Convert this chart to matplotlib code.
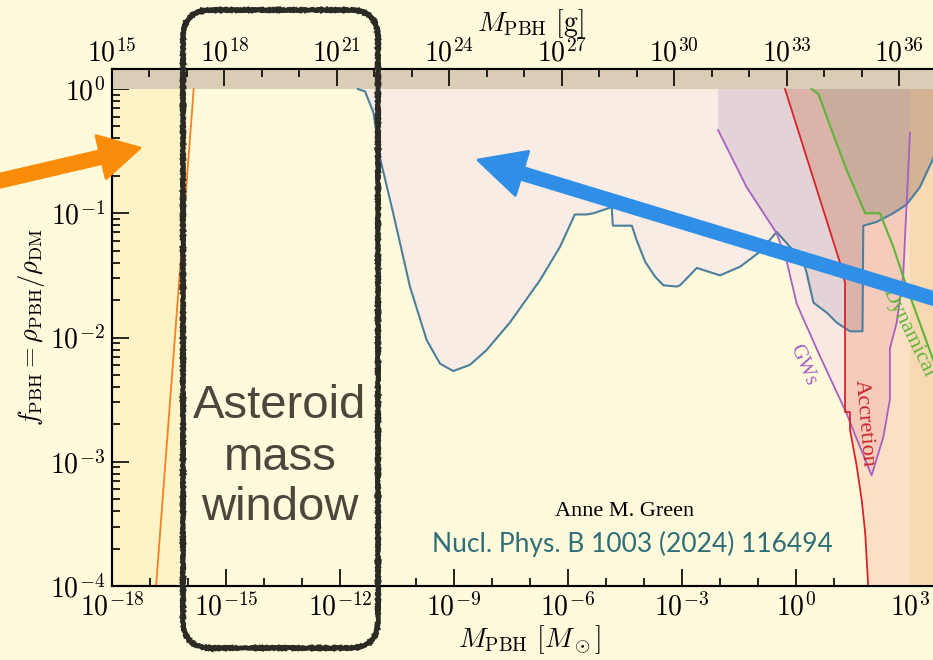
import numpy as np
import matplotlib.pyplot as plt
from matplotlib.patches import Polygon, FancyBboxPatch, FancyArrow
from matplotlib.ticker import FixedLocator, NullFormatter, LogLocator
from matplotlib.transforms import IdentityTransform

plt.rcParams['mathtext.fontset'] = 'cm'
plt.rcParams['font.family'] = ['Liberation Serif', 'DejaVu Serif']

# all curves as log10(M / M_sun), log10(f_PBH)
evap_line_logm = [-16.84, -15.85]
evap_line_logf = [-4.0, 0.0]
evap_fill_logm = [-18.5, -16.12, -16.02, -18.5]
evap_fill_logf = [-4.0, -4.0, 0.0, 0.0]

ml_logm = [-11.53, -11.34, -11.12, -10.95, -10.60, -10.16, -9.72, -9.37, -9.02,
           -8.58, -8.14, -7.53, -6.74, -6.21, -5.82, -5.51, -5.33, -4.85, -4.82,
           -4.32, -4.19, -3.97, -3.71, -3.49, -3.14, -3.05, -2.61, -2.00, -1.47,
           -0.95, -0.51, -0.16, 0.19, 0.28, 0.46, 0.81, 1.07, 1.42, 1.75, 1.77,
           2.12, 2.56, 2.91, 3.26, 3.61, 3.92, 4.10]
ml_logf = [0.0, -0.02, -0.19, -0.55, -1.00, -1.59, -2.02, -2.21, -2.27,
           -2.22, -2.10, -1.88, -1.54, -1.27, -1.01, -1.01, -1.00, -0.95, -1.10,
           -1.10, -1.22, -1.39, -1.51, -1.58, -1.59, -1.58, -1.44, -1.50, -1.43,
           -1.31, -1.15, -1.27, -1.38, -1.48, -1.72, -1.80, -1.88, -1.95, -1.95, -1.10,
           -1.07, -1.00, -0.93, -0.79, -0.56, -0.15, 0.0]

gw_logm = [-2.05, -2.05, -1.30, -0.51, -0.25, 0.02, 0.63, 1.33, 1.47, 1.99,
           2.30, 2.47, 2.47, 2.65, 2.82, 3.00, 3.00]
gw_logf = [0.0, -0.33, -0.79, -1.16, -1.38, -1.73, -2.15, -2.61, -2.72, -3.11,
           -2.80, -2.50, -2.09, -1.88, -1.51, -0.35, 0.0]

acc_logm = [-0.29, 1.16, 1.29, 1.29, 1.42, 1.42, 1.60, 1.73, 1.82, 1.90]
acc_logf = [0.0, -1.40, -1.56, -2.60, -2.60, -2.74, -3.04, -3.31, -3.57, -4.0]

dyn_logm = [0.41, 0.59, 0.90, 1.33, 1.82, 2.21, 2.56, 2.91, 3.61, 4.05, 4.50]
dyn_logf = [0.0, -0.04, -0.30, -0.65, -1.00, -1.00, -1.27, -1.59, -2.18, -2.54, -2.90]

right_logm = 3.0

x_major_exps = [-18, -15, -12, -9, -6, -3, 0, 3]
x_top_exps = [15, 18, 21, 24, 27, 30, 33, 36]
y_major_exps = [0, -1, -2, -3, -4]

window_words = ['Asteroid', 'mass', 'window']

bg = '#fffadc'


def pts(logm, logf):
    return np.column_stack([10 ** np.array(logm), 10 ** np.array(logf)])


fig = plt.figure(figsize=(9.33, 6.6), dpi=100, facecolor=bg)
ax = fig.add_axes([112 / 933, 74 / 660, 836 / 933, 517 / 660])
ax.set_facecolor(bg)
ax.set_xscale('log')
ax.set_yscale('log')
ax.set_xlim(1e-18, 1e4)
ax.set_ylim(1e-4, 10 ** (20 / 124.25))

# regions
ax.add_patch(Polygon(pts(evap_fill_logm, evap_fill_logf), closed=True,
                     fc='#fdf3c6', ec='none', zorder=1))

ml_poly = Polygon(pts(ml_logm, ml_logf), closed=True, fc='#f9ece4', ec='none', zorder=1)
ax.add_patch(ml_poly)

gw_poly = Polygon(pts(gw_logm, gw_logf), closed=True, fc='#fbe8e2', ec='none', zorder=2)
ax.add_patch(gw_poly)
gw_in_ml = Polygon(pts(gw_logm, gw_logf), closed=True, fc='#e3d3d6', ec='none', zorder=2.1)
ax.add_patch(gw_in_ml)
gw_in_ml.set_clip_path(ml_poly)

acc_pts = pts(acc_logm + [4.6, 4.6], acc_logf + [-4.5, 0.0])
ax.add_patch(Polygon(acc_pts, closed=True, fc='#fbe0c6', ec='none', zorder=3))
acc_in_gw = Polygon(acc_pts, closed=True, fc='#f5cbbb', ec='none', zorder=3.1)
ax.add_patch(acc_in_gw)
acc_in_gw.set_clip_path(gw_poly)
acc_in_ml = Polygon(acc_pts, closed=True, fc='#dbb3a8', ec='none', zorder=3.2)
ax.add_patch(acc_in_ml)
acc_in_ml.set_clip_path(ml_poly)

dyn_pts = pts(dyn_logm + [4.6], dyn_logf + [0.0])
dyn_in_ml = Polygon(dyn_pts, closed=True, fc='#c9ad9c', ec='none', zorder=4)
ax.add_patch(dyn_in_ml)
dyn_in_ml.set_clip_path(ml_poly)

ax.axvspan(10 ** right_logm, 10 ** 4.6, color='#f0c680', alpha=0.28, lw=0, zorder=4.5)

ax.axhspan(1, 10, color='#d9cdb6', lw=0, zorder=5)

# boundary lines
ax.plot(10 ** np.array(evap_line_logm), 10 ** np.array(evap_line_logf), color='#f4821e', lw=1.3, zorder=6)
ax.plot(10 ** np.array(ml_logm), 10 ** np.array(ml_logf), color='#4b7f9c', lw=1.5, zorder=6)
ax.plot(10 ** np.array(gw_logm[1:-1]), 10 ** np.array(gw_logf[1:-1]), color='#a760c2', lw=1.3, zorder=6)
ax.plot(10 ** np.array(acc_logm), 10 ** np.array(acc_logf), color='#d8232a', lw=1.3, zorder=6)
ax.plot(10 ** np.array(dyn_logm), 10 ** np.array(dyn_logf), color='#5fb43a', lw=1.5, zorder=6)

ax.text(10 ** 0.18, 10 ** -2.22, 'GWs', color='#a760c2', fontsize=15, rotation=-67,
        rotation_mode='anchor', ha='center', va='center', zorder=7)
ax.text(10 ** 1.78, 10 ** -2.69, 'Accretion', color='#c8242a', fontsize=16, rotation=-85,
        rotation_mode='anchor', ha='center', va='center', zorder=7)
ax.text(10 ** 2.95, 10 ** -1.96, 'Dynamical', color='#5fb43a', fontsize=16, rotation=-64,
        rotation_mode='anchor', ha='center', va='center', zorder=7)

# ticks
ax.xaxis.set_major_locator(FixedLocator([10.0 ** e for e in x_major_exps]))
ax.set_xticklabels([f'$10^{{{e}}}$' for e in x_major_exps])
ax.xaxis.set_minor_locator(FixedLocator([10.0 ** e for e in range(-18, 5)]))
ax.xaxis.set_minor_formatter(NullFormatter())
ax.yaxis.set_major_locator(FixedLocator([10.0 ** e for e in y_major_exps]))
ax.set_yticklabels([f'$10^{{{e}}}$' for e in y_major_exps])
ax.yaxis.set_minor_locator(LogLocator(base=10, subs=np.arange(2, 10)))
ax.yaxis.set_minor_formatter(NullFormatter())
ax.tick_params(which='both', direction='in', labelsize=20, width=1.2)
ax.tick_params(which='major', length=12, pad=5)
ax.tick_params(which='minor', length=6)
ax.tick_params(axis='both', top=False, right=False)
for s in ax.spines.values():
    s.set_linewidth(1.5)

ax.set_xlabel(r'$M_{\rm PBH}\ [M_\odot]$', fontsize=20, labelpad=1)
ax.set_ylabel(r'$f_{\rm PBH} = \rho_{\rm PBH}/\rho_{\rm DM}$', fontsize=19, labelpad=2)

ax2 = ax.twiny()
ax2.set_xscale('log')
ax2.set_xlim(1e15, 2e37)
ax2.xaxis.set_major_locator(FixedLocator([10.0 ** e for e in x_top_exps]))
ax2.set_xticklabels([f'$10^{{{e}}}$' for e in x_top_exps])
ax2.xaxis.set_minor_locator(FixedLocator([10.0 ** e for e in range(15, 38)]))
ax2.xaxis.set_minor_formatter(NullFormatter())
ax2.tick_params(which='both', direction='in', labelsize=20, width=1.2)
ax2.tick_params(which='major', length=12, pad=1)
ax2.tick_params(which='minor', length=6)
ax2.set_xlabel(r'$M_{\rm PBH}\ [{\rm g}]$', fontsize=20, labelpad=6)
for s in ax2.spines.values():
    s.set_linewidth(1.5)

# annotations drawn in pixel coordinates
ident = IdentityTransform()
box = FancyBboxPatch((183, 12), 195, 638, boxstyle='round,pad=0,rounding_size=28',
                     transform=ident, fill=False, lw=3.5, ec='#2b2a24', zorder=20)
box.set_sketch_params(scale=0.6, length=2, randomness=2)
fig.add_artist(box)

for word, yb in zip(window_words, [242, 190, 140]):
    fig.text(280 / 933, yb / 660, word, fontsize=34, family='Liberation Sans',
             color='#4d463d', ha='center', va='baseline', zorder=21)

fig.text(625 / 933, 144 / 660, 'Anne M. Green', fontsize=16, color='black',
         ha='center', va='baseline', zorder=21)
fig.text(632 / 933, 108 / 660, 'Nucl. Phys. B 1003 (2024) 116494', fontsize=19,
         family='Lato', color='#2d6e78', ha='center', va='baseline', zorder=21)

fig.add_artist(FancyArrow(-10, 477, 150, 35, width=13, head_width=44, head_length=40,
                          length_includes_head=True, transform=ident, color='#fb8c0a',
                          lw=2, joinstyle='round', zorder=22))
fig.add_artist(FancyArrow(945, 358, -467, 142, width=12, head_width=46, head_length=46,
                          length_includes_head=True, transform=ident, color='#2f8fe6',
                          lw=2, joinstyle='round', zorder=22))

fig.savefig('out.png', dpi=100, facecolor=bg)
